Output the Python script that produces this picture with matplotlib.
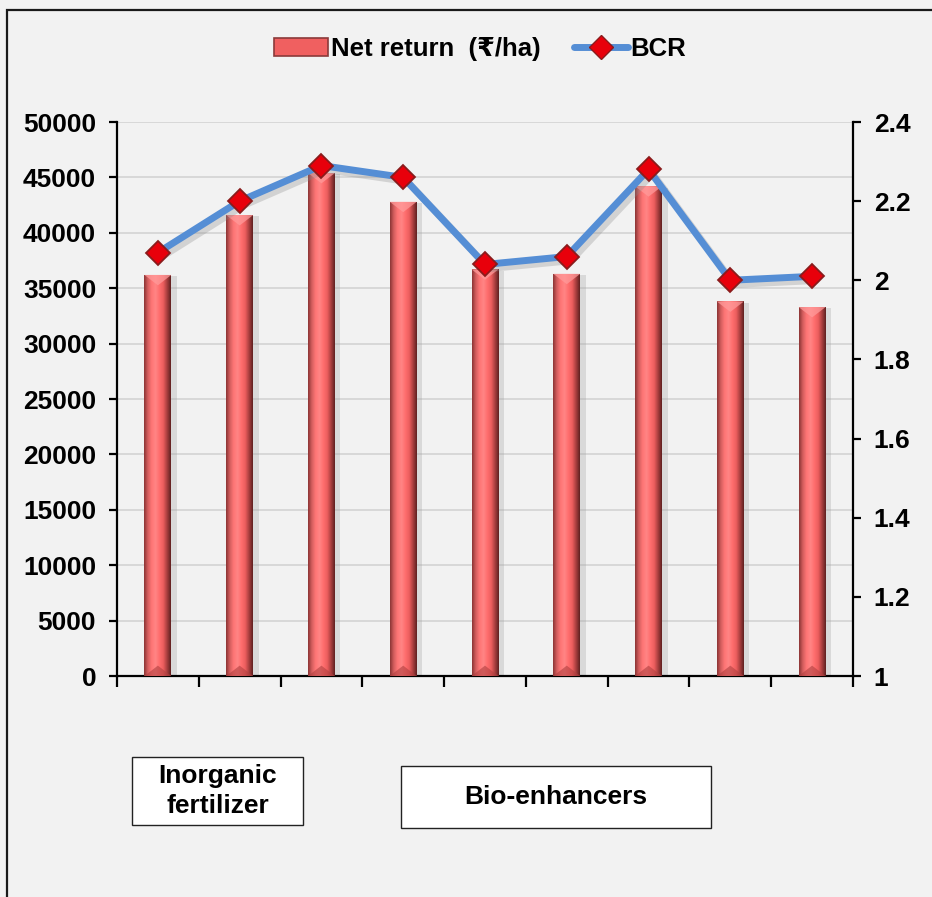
import numpy as np
import matplotlib
matplotlib.use("Agg")
import matplotlib.pyplot as plt
from matplotlib.colors import LinearSegmentedColormap
from matplotlib.patches import Rectangle, Polygon, Patch
from matplotlib.lines import Line2D
import matplotlib.patheffects as pe

plt.rcParams['font.family'] = ['Liberation Sans', 'DejaVu Sans']
plt.rcParams['font.weight'] = 'bold'

# ---- data ----
treatments = ["T1", "T2", "T3", "T4", "T5", "T6", "T7", "T8", "T9"]
net_return = [36200, 41600, 45400, 42800, 36700, 36300, 44200, 33800, 33300]
bcr = [2.07, 2.20, 2.29, 2.26, 2.04, 2.06, 2.28, 2.00, 2.01]
left_ticks = [0, 5000, 10000, 15000, 20000, 25000, 30000, 35000, 40000, 45000, 50000]
right_ticks = [1, 1.2, 1.4, 1.6, 1.8, 2, 2.2, 2.4]
group_labels = ["Inorganic\nfertilizer", "Bio-enhancers"]
legend_labels = ["Net return  (\u20b9/ha)", "BCR"]

W, H = 932, 897
bg = '#f2f2f2'
FS = 19
fig = plt.figure(figsize=(W / 100, H / 100), dpi=100, facecolor=bg)

# outer border
fig.patches.append(Rectangle((7 / W, -0.1), 1.2, 1 - 10 / H + 0.1, transform=fig.transFigure,
                             fill=False, edgecolor='#1a1a1a', linewidth=1.6, zorder=0))

ax = fig.add_axes([117 / W, 1 - 676 / H, (853 - 117) / W, (676 - 122) / H])
ax.set_facecolor(bg)
x = np.arange(len(treatments))
bw = 0.33
ax.set_xlim(-0.5, len(treatments) - 0.5)
ax.set_ylim(0, 50000)

bar_cmap = LinearSegmentedColormap.from_list(
    'bar', ['#8a3434', '#d45e5e', '#ff7676', '#ff8585', '#ff6e6e', '#ec5e5e', '#a83e3e', '#5e2020'])

bars = ax.bar(x, net_return, width=bw, color='#ff6666', edgecolor='none', zorder=2,
              path_effects=[pe.SimplePatchShadow(offset=(4, -1), shadow_rgbFace='#a0a0a0', alpha=0.3),
                            pe.Normal()])
grad = np.linspace(0, 1, 256)[None, :]
px_per_x = ((853 - 117) / len(treatments))
px_per_y = (676 - 122) / 50000
bev = (bw * px_per_x / 2.6) / px_per_y
for b in bars:
    x0, w, h = b.get_x(), b.get_width(), b.get_height()
    im = ax.imshow(grad, extent=[x0, x0 + w, 0, h], aspect='auto', cmap=bar_cmap, zorder=3)
    im.set_clip_path(b)
    ax.add_patch(Polygon([[x0, h], [x0 + w, h], [x0 + w / 2, h - bev]], closed=True,
                         facecolor='#ff9a9a', edgecolor='none', alpha=0.75, zorder=4))
    ax.add_patch(Polygon([[x0, 0], [x0 + w, 0], [x0 + w / 2, bev]], closed=True,
                         facecolor='#b04040', edgecolor='none', alpha=0.6, zorder=4))
ax.set_xlim(-0.5, len(treatments) - 0.5)
ax.set_ylim(0, 50000)

ax.set_yticks(left_ticks)
ax.set_yticklabels([str(v) for v in left_ticks])
ax.set_xticks(np.arange(len(treatments) + 1) - 0.5)
ax.set_xticklabels([])
ax.yaxis.grid(True, color='#d6d6d6', linewidth=1.3)
ax.set_axisbelow(True)
for s in ['top', 'right']:
    ax.spines[s].set_visible(False)
for s in ['left', 'bottom']:
    ax.spines[s].set_linewidth(1.6)
ax.tick_params(axis='y', direction='out', length=6, width=1.6, labelsize=FS, pad=9)
ax.tick_params(axis='x', direction='out', length=8, width=1.6)
for t in ax.get_yticklabels():
    t.set_fontweight('bold')

ax2 = ax.twinx()
ax2.set_ylim(1, 2.4)
ax2.set_yticks(right_ticks)
ax2.set_yticklabels(['%g' % v for v in right_ticks])
ax2.patch.set_visible(False)
for s in ['top', 'left', 'bottom']:
    ax2.spines[s].set_visible(False)
ax2.spines['right'].set_linewidth(1.6)
ax2.tick_params(axis='y', direction='out', length=6, width=1.6, labelsize=FS, pad=9)
for t in ax2.get_yticklabels():
    t.set_fontweight('bold')
ax2.plot(x, bcr, color='#558ed5', linewidth=5, solid_capstyle='round', zorder=5,
         path_effects=[pe.SimpleLineShadow(offset=(3, -3), shadow_color='#8a8a8a', alpha=0.3),
                       pe.Normal()])
ax2.plot(x, bcr, linestyle='none', zorder=6,
         marker='D', markersize=12, markerfacecolor='#e8000b', markeredgecolor='#8a1c1c',
         markeredgewidth=1.3)

# legend
h1 = Patch(facecolor='#f06060', edgecolor='#8b3a3a', linewidth=1.2)
h2 = Line2D([], [], color='#558ed5', linewidth=5, solid_capstyle='round', marker='D',
            markersize=12, markerfacecolor='#e8000b', markeredgecolor='#8a1c1c')
fig.legend([h1, h2], legend_labels, loc='center', bbox_to_anchor=(480 / W, 1 - 49 / H),
           ncol=2, frameon=False, prop={'size': FS - 0.5, 'weight': 'bold'},
           handlelength=2.1, handleheight=0.65, handletextpad=0.1, columnspacing=1.3)

# group label boxes
boxes = [(132, 757, 303, 825), (401, 766, 711, 828)]
for (bx0, by0, bx1, by1), lab in zip(boxes, group_labels):
    fig.patches.append(Rectangle((bx0 / W, 1 - by1 / H), (bx1 - bx0) / W, (by1 - by0) / H,
                                 transform=fig.transFigure, facecolor='white',
                                 edgecolor='#222222', linewidth=1.0))
    fig.text((bx0 + bx1) / 2 / W, 1 - (by0 + by1) / 2 / H, lab, ha='center', va='center',
             fontsize=FS, fontweight='bold', linespacing=1.3)

fig.savefig('out.png', dpi=100, facecolor=bg)
